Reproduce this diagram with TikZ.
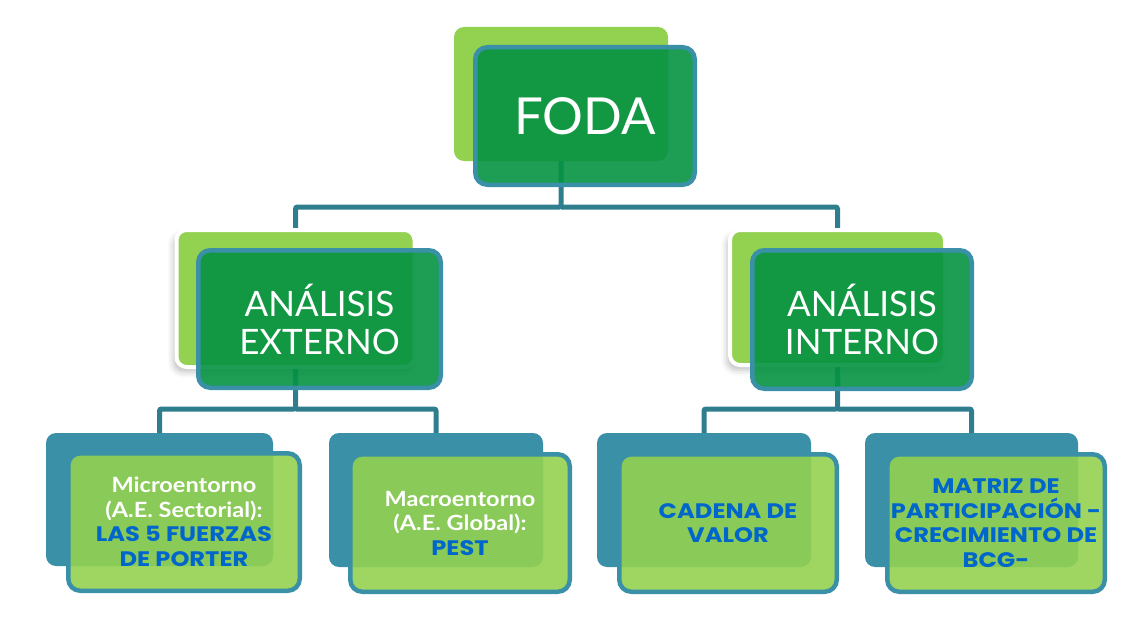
\documentclass[tikz,border=0pt]{standalone}
\usepackage{fontspec}
\setmainfont{Lato}
\newfontfamily\bluefont{Poppins}[FakeStretch=1.15]
\newfontfamily\whitefont{Lato}[FakeStretch=1.12]
\usetikzlibrary{shadows.blur}

\definecolor{lightgreen}{RGB}{147,209,80}
\definecolor{darkgreen}{RGB}{5,146,66}
\definecolor{boxteal}{RGB}{58,144,166}
\definecolor{linkteal}{RGB}{47,126,142}
\definecolor{textblue}{RGB}{0,102,204}

\newcommand\wline[1]{{\whitefont\bfseries\color{white}#1}}
\newcommand\bline[1]{{\bluefont\bfseries\color{textblue}#1}}

\tikzset{
  backgreen/.style={fill=lightgreen, rounded corners=10pt, inner sep=0pt, outer sep=0pt},
  backglow/.style={backgreen, draw=white, line width=4pt,
    blur shadow={shadow xshift=-3pt, shadow yshift=-5pt, shadow blur radius=6pt, shadow opacity=25}},
  backteal/.style={fill=boxteal, rounded corners=10pt, inner sep=0pt, outer sep=0pt},
  frontdark/.style={fill=darkgreen, fill opacity=0.9, text opacity=1, draw=boxteal,
    line width=4.5pt, rounded corners=12pt, inner sep=0pt, outer sep=0pt,
    text=white, align=center},
  frontlight/.style={fill=lightgreen, fill opacity=0.9, text opacity=1, draw=boxteal,
    line width=4.5pt, rounded corners=12pt, inner sep=0pt, outer sep=0pt,
    align=center, font=\fontsize{21}{24.5}\selectfont},
  link/.style={draw=linkteal, line width=5pt, rounded corners=2pt},
  bigtext/.style={font=\fontsize{51}{60}\selectfont},
  midtext/.style={font=\fontsize{35}{38}\selectfont},
}

\begin{document}
\begin{tikzpicture}[x=1pt, y=-1pt]
  \useasboundingbox (0,0) rectangle (1135,623);

  % connectors (drawn first, so the boxes lie over their ends)
  \coordinate (topbar) at (0,207);
  \coordinate (lowbar) at (0,409);
  \node[backgreen, minimum width=214pt, minimum height=134pt] (fodaB) at (561,94) {};
  \path (295.5,298.5) coordinate (extC) (837.5,297.5) coordinate (intC);
  \path (159.5,499.5) coordinate (c1) (436,500) coordinate (c2)
        (704,500) coordinate (c3) (971.5,500) coordinate (c4);

  \draw[link] (fodaB.south) -- (fodaB.south |- topbar) -| (extC);
  \draw[link] (fodaB.south |- topbar) -| (intC);
  \draw[link] (extC) -- (extC |- lowbar) -| (c1);
  \draw[link] (extC |- lowbar) -| (c2);
  \draw[link] (intC) -- (intC |- lowbar) -| (c3);
  \draw[link] (intC |- lowbar) -| (c4);

  % FODA
  \node[frontdark, bigtext, minimum width=219.5pt, minimum height=137.5pt] (foda) at (585,116) {FODA};

  % second level
  \node[backglow, minimum width=238pt, minimum height=137pt] (extB) at (extC) {};
  \node[backglow, minimum width=215pt, minimum height=135pt] (intB) at (intC) {};
  \node[frontdark, midtext, minimum width=242.5pt, minimum height=137.5pt] (ext) at (319.5,319)
    {ANÁLISIS\\EXTERNO};
  \node[frontdark, midtext, minimum width=219.5pt, minimum height=138.5pt] (int) at (862,319.5)
    {ANÁLISIS\\INTERNO};

  % third level
  \node[backteal, minimum width=227pt, minimum height=133pt] (microB) at (c1) {};
  \node[backteal, minimum width=214pt, minimum height=134pt] (macroB) at (c2) {};
  \node[backteal, minimum width=214pt, minimum height=134pt] (cadenaB) at (c3) {};
  \node[backteal, minimum width=213pt, minimum height=134pt] (matrizB) at (c4) {};

  \node[frontlight, minimum width=231.5pt, minimum height=137.5pt] (micro) at (184,522)
    {\wline{Microentorno}\\\wline{(A.E. Sectorial):}\\\bline{LAS 5 FUERZAS}\\\bline{DE PORTER}};
  \node[frontlight, minimum width=219.5pt, minimum height=137.5pt] (macro) at (460,523)
    {\wline{Macroentorno}\\\wline{(A.E. Global):}\\\bline{PEST}};
  \node[frontlight, minimum width=217.5pt, minimum height=137.5pt] (cadena) at (728,523)
    {\bline{CADENA DE}\\\bline{VALOR}};
  \node[frontlight, minimum width=217.5pt, minimum height=137.5pt] (matriz) at (996,523)
    {\bline{MATRIZ DE}\\\bline{PARTICIPACIÓN -}\\\bline{CRECIMIENTO DE}\\\bline{BCG-}};
\end{tikzpicture}
\end{document}
